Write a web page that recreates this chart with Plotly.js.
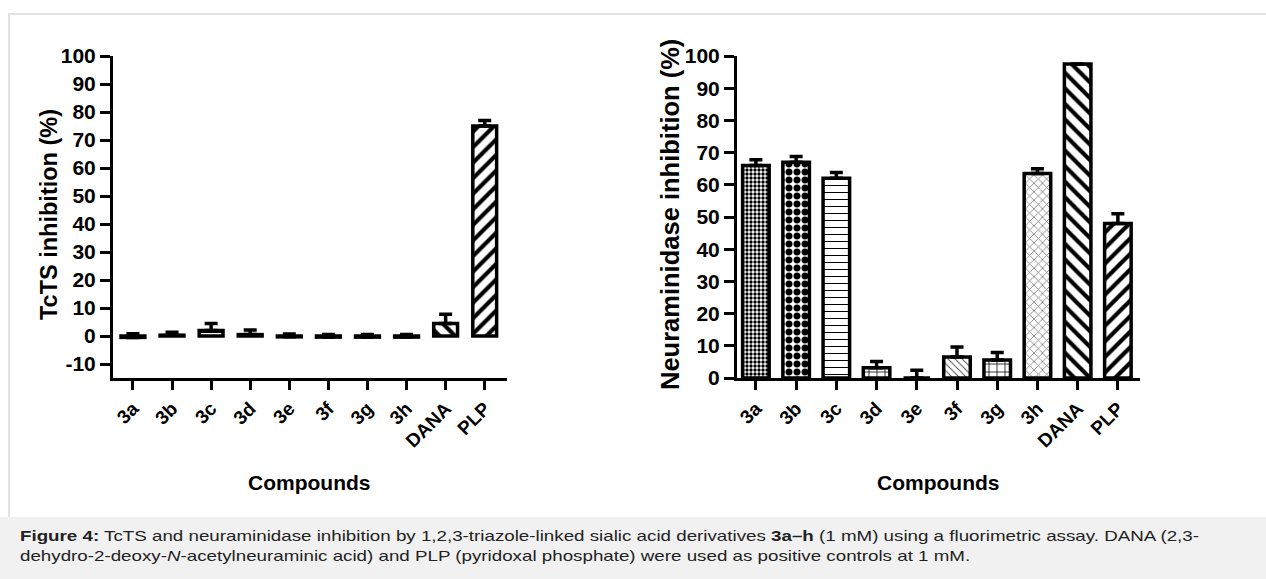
<!DOCTYPE html>
<html>
<head>
<meta charset="utf-8">
<script src="https://cdn.plot.ly/plotly-3.0.1.min.js"></script>
<style>
  html, body { margin: 0; padding: 0; background: #ffffff; }
  #wrap { position: relative; width: 1266px; height: 579px; overflow: hidden; }
  #chart { position: absolute; left: 0; top: 0; width: 1266px; height: 579px; }
  #caption { position: absolute; left: 20px; top: 526px; width: 960px; white-space: nowrap;
             font-family: "Liberation Sans", Arial, Helvetica, sans-serif; font-size: 15px; line-height: 20px;
             color: #222; transform: scaleX(1.25); transform-origin: 0 0; }
</style>
</head>
<body>
<div id="wrap">
  <div id="chart"></div>
  <div id="caption"><b>Figure 4:</b> TcTS and neuraminidase inhibition by 1,2,3-triazole-linked sialic acid derivatives <b>3a–h</b> (1 mM) using a fluorimetric assay. DANA (2,3-<br>dehydro-2-deoxy-<i>N</i>-acetylneuraminic acid) and PLP (pyridoxal phosphate) were used as positive controls at 1 mM.</div>
</div>
<script>
// ---- data ----
var compounds = ["3a", "3b", "3c", "3d", "3e", "3f", "3g", "3h", "DANA", "PLP"];
var tctsInhibition = [-0.5, 0.3, 2.0, 0.5, -0.3, -0.4, -0.4, -0.4, 4.5, 75];
var tctsError      = [1.3, 1.0, 2.5, 1.6, 1.0, 0.9, 0.9, 0.9, 3.3, 2.0];
var neuInhibition  = [66, 67, 62, 3.2, 0, 6.5, 5.6, 63.5, 97.5, 48];
var neuError       = [1.8, 1.8, 1.8, 1.9, 2.4, 3.1, 2.3, 1.5, 0, 3.0];
var yTicksLeft  = [-10, 0, 10, 20, 30, 40, 50, 60, 70, 80, 90, 100];
var yTickTextLeft = ["-10", "0", "10", "20", "30", "40", "50", "60", "70", "80", "90", "100"];
var yTicksRight = [0, 10, 20, 30, 40, 50, 60, 70, 80, 90, 100];
var yTickTextRight = ["0", "10", "20", "30", "40", "50", "60", "70", "80", "90", "100"];

// ---- styles ----
var patShapes   = [".", ".", "-", "+", "", "\\", "+", "x", "\\", "/"];
var patSizes    = [4, 8, 7, 8, 8, 5, 8, 6, 11, 11];
var patSolidity = [0.55, 0.6, 0.15, 0.18, 0.2, 0.18, 0.18, 0.25, 0.38, 0.38];
var patColors   = ["#000", "#000", "#000", "#000", "#000", "#444", "#000", "#7a7a7a", "#000", "#000"];

var FONT = "Liberation Sans, Arial, Helvetica, sans-serif";

function barTrace(y, err, xa, ya, w) {
  return {
    type: "bar",
    x: compounds,
    y: y,
    xaxis: xa, yaxis: ya,
    width: w,
    marker: {
      color: "#ffffff",
      line: { color: "#000000", width: 3.5 },
      pattern: { shape: patShapes, size: patSizes, solidity: patSolidity, fgcolor: patColors, bgcolor: "#ffffff", fgopacity: 1, fillmode: "replace" }
    },
    error_y: { type: "data", array: err, symmetric: false, arrayminus: err.map(function(){return 0;}), color: "#000000", thickness: 3.5, width: 6.5 },
    hoverinfo: "x+y",
    showlegend: false
  };
}

var traces = [
  barTrace(tctsInhibition, tctsError, "x", "y", 0.61),
  barTrace(neuInhibition, neuError, "x2", "y2", 0.66)
];

var xAxisCommon = {
  type: "category",
  showline: true, linewidth: 3, linecolor: "#000",
  ticks: "outside", ticklen: 9, tickwidth: 3, tickcolor: "#000",
  tickangle: -45,
  tickfont: { family: FONT, size: 19, color: "#000", weight: "bold" },
  showgrid: false, zeroline: false, fixedrange: true
};
var yAxisCommon = {
  showline: true, linewidth: 3, linecolor: "#000",
  ticks: "outside", ticklen: 10, tickwidth: 3, tickcolor: "#000",
  tickfont: { family: FONT, size: 21, color: "#000", weight: "bold" },
  showgrid: false, zeroline: false, fixedrange: true, tickmode: "array"
};

function py(px) { return (579 - px) / 579; }
function pxw(px) { return px / 1266; }

var layout = {
  width: 1266, height: 579,
  margin: { l: 0, r: 0, t: 0, b: 0 },
  paper_bgcolor: "rgba(0,0,0,0)", plot_bgcolor: "rgba(0,0,0,0)",
  xaxis: Object.assign({}, xAxisCommon, { domain: [pxw(113), pxw(507)], range: [-0.51, 9.57], anchor: "y" }),
  yaxis: Object.assign({}, yAxisCommon, { domain: [py(378), py(56)], range: [-15, 100], tickvals: yTicksLeft, ticktext: yTickTextLeft, anchor: "x" }),
  xaxis2: Object.assign({}, xAxisCommon, { domain: [pxw(737), pxw(1140)], range: [-0.47, 9.55], anchor: "y2" }),
  yaxis2: Object.assign({}, yAxisCommon, { domain: [py(378), py(56)], range: [0, 100], tickvals: yTicksRight, ticktext: yTickTextRight, anchor: "x2" }),
  shapes: [
    { type: "line", xref: "paper", yref: "paper", x0: pxw(8), x1: 1, y0: py(14), y1: py(14), line: { color: "#e2e2e2", width: 2 }, layer: "below" },
    { type: "line", xref: "paper", yref: "paper", x0: pxw(9), x1: pxw(9), y0: py(14), y1: py(517), line: { color: "#e2e2e2", width: 2 }, layer: "below" },
    { type: "rect", xref: "paper", yref: "paper", x0: 0, x1: 1, y0: 0, y1: py(517), fillcolor: "#f1f1f1", line: { width: 0 }, layer: "below" }
  ],
  annotations: [
    { text: "TcTS inhibition (%)", xref: "paper", yref: "paper", x: pxw(49), y: py(215), textangle: -90, showarrow: false, xanchor: "center", yanchor: "middle", font: { family: FONT, size: 23.5, color: "#000", weight: "bold" } },
    { text: "Neuraminidase inhibition (%)", xref: "paper", yref: "paper", x: pxw(670), y: py(215), textangle: -90, showarrow: false, xanchor: "center", yanchor: "middle", font: { family: FONT, size: 25.5, color: "#000", weight: "bold" } },
    { text: "Compounds", xref: "paper", yref: "paper", x: pxw(309), y: py(482), showarrow: false, xanchor: "center", yanchor: "middle", font: { family: FONT, size: 21, color: "#000", weight: "bold" } },
    { text: "Compounds", xref: "paper", yref: "paper", x: pxw(938), y: py(482), showarrow: false, xanchor: "center", yanchor: "middle", font: { family: FONT, size: 21, color: "#000", weight: "bold" } }
  ]
};

Plotly.newPlot("chart", traces, layout, { staticPlot: true, displayModeBar: false });
</script>
</body>
</html>
